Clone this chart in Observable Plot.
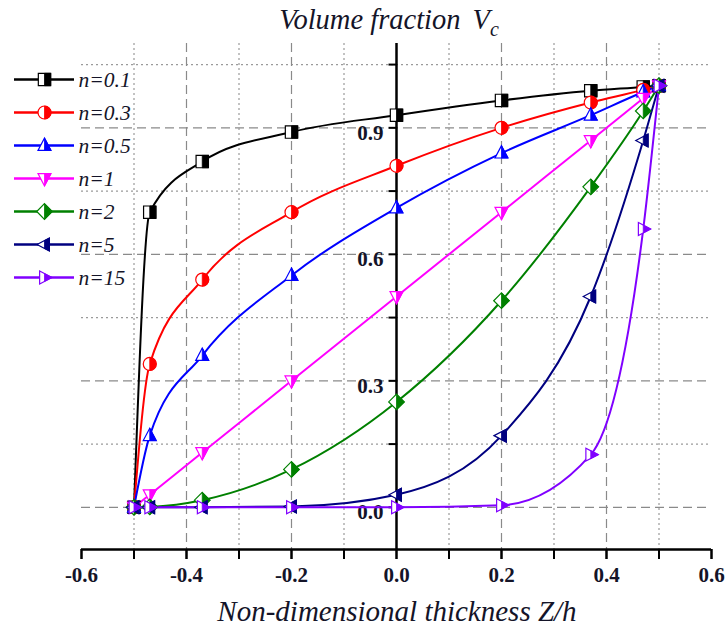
<!DOCTYPE html>
<html>
<head>
<meta charset="utf-8">
<script src="https://cdn.jsdelivr.net/npm/d3@7"></script>
<script src="https://cdn.jsdelivr.net/npm/@observablehq/plot@0.6"></script>
<style>
  html, body { margin: 0; padding: 0; background: #fff; }
  #chart { position: relative; width: 727px; height: 632px; overflow: hidden; }
  #chart svg { position: absolute; left: 0; top: 0; }
  g[aria-label="x-axis tick label"] text { font-weight: bold; }
</style>
</head>
<body>
<div id="chart"></div>
<script>
// ---------------- data ----------------
const zValues = [-0.5, -0.47, -0.37, -0.2, 0, 0.2, 0.37, 0.47, 0.5];
const seriesNames = ["n=0.1", "n=0.3", "n=0.5", "n=1", "n=2", "n=5", "n=15"];
const seriesColors = ["#000000", "#ff0000", "#0000ff", "#ff00ff", "#008000", "#000080", "#8000ff"];
const seriesShapes = ["square", "circle", "triangleUp", "triangleDown", "diamond", "triangleLeft", "triangleRight"];
const vN01 = [0, 0.70, 0.82, 0.89, 0.93, 0.965, 0.988, 0.997, 1.0];
const vN03 = [0, 0.34, 0.54, 0.70, 0.81, 0.90, 0.96, 0.99, 1.0];
const vN05 = [0, 0.17, 0.36, 0.55, 0.71, 0.84, 0.93, 0.985, 1.0];
const vN1  = [0, 0.03, 0.13, 0.30, 0.50, 0.70, 0.87, 0.97, 1.0];
const vN2  = [0, 0.001, 0.017, 0.09, 0.25, 0.49, 0.76, 0.94, 1.0];
const vN5  = [0, 0, 0, 0.002, 0.03, 0.17, 0.50, 0.87, 1.0];
const vN15 = [0, 0, 0, 0, 0, 0.005, 0.125, 0.66, 1.0];
const seriesValues = [vN01, vN03, vN05, vN1, vN2, vN5, vN15];

const xMinorTicks = [-0.6, -0.5, -0.4, -0.3, -0.2, -0.1, 0, 0.1, 0.2, 0.3, 0.4, 0.5, 0.6];
const xLabelTicks = [-0.6, -0.4, -0.2, 0, 0.2, 0.4, 0.6];
const xLabels = ["-0.6", "-0.4", "-0.2", "0.0", "0.2", "0.4", "0.6"];
const yMinorTicks = [0, 0.15, 0.3, 0.45, 0.6, 0.75, 0.9, 1.05];
const yLabelTicks = [0, 0.3, 0.6, 0.9];
const yLabels = ["0.0", "0.3", "0.6", "0.9"];
const gridDashedY = [0, 0.3, 0.6, 0.9];
const gridDottedY = [0.15, 0.45, 0.75, 1.05];
const gridDashedX = [-0.4, -0.2, 0.2, 0.4];
const gridDottedX = [-0.5, -0.3, -0.1, 0.1, 0.3, 0.5];

const titleText = "Volume fraction";
const titleVar = "V";
const titleSub = "c";
const xTitle = "Non-dimensional thickness Z/h";

// ---------------- table ----------------
const rows = [];
seriesNames.forEach((name, si) => {
  zValues.forEach((z, i) => rows.push({series: name, si, z, v: seriesValues[si][i]}));
});

// ---------------- half-filled symbols ----------------
function poly(ctx, pts) {
  ctx.moveTo(pts[0][0], pts[0][1]);
  for (let k = 1; k < pts.length; k++) ctx.lineTo(pts[k][0], pts[k][1]);
  ctx.closePath();
}
function shapeSymbol(kind, half) {
  return {
    draw(ctx, size) {
      const s = Math.sqrt(size / Math.PI);
      const a = s * 0.95, h = s * 1.15, b = s * 0.75, w = s * 1.0, d = s * 1.2;
      const cut = w * h / (h + b);
      switch (kind) {
        case "square":
          poly(ctx, half ? [[0, -a], [a, -a], [a, a], [0, a]] : [[-a, -a], [a, -a], [a, a], [-a, a]]);
          break;
        case "circle":
          if (half) { ctx.moveTo(0, -s); ctx.arc(0, 0, s, -Math.PI / 2, Math.PI / 2); ctx.closePath(); }
          else { ctx.moveTo(s, 0); ctx.arc(0, 0, s, 0, 2 * Math.PI); ctx.closePath(); }
          break;
        case "triangleUp":
          poly(ctx, half ? [[0, -h], [w, b], [0, b]] : [[0, -h], [w, b], [-w, b]]);
          break;
        case "triangleDown":
          poly(ctx, half ? [[0, h], [w, -b], [0, -b]] : [[0, h], [w, -b], [-w, -b]]);
          break;
        case "diamond":
          poly(ctx, half ? [[0, -d], [d, 0], [0, d]] : [[0, -d], [d, 0], [0, d], [-d, 0]]);
          break;
        case "triangleLeft":
          poly(ctx, half ? [[0, -cut], [b, -w], [b, w], [0, cut]] : [[-h, 0], [b, -w], [b, w]]);
          break;
        case "triangleRight": {
          const c2 = w * h / (h + b);
          poly(ctx, half ? [[0, -c2], [h, 0], [0, c2]] : [[h, 0], [-b, -w], [-b, w]]);
          break;
        }
      }
    }
  };
}
const tickLeft = { draw(ctx) { ctx.moveTo(-8, 0); ctx.lineTo(0, 0); } };

const serif = "'Liberation Serif', 'DejaVu Serif', serif";
const textColor = "#141428";

// ---------------- main plot ----------------
const marks = [
  Plot.ruleY(gridDashedY, {stroke: "#8a8a8a", strokeWidth: 1.2, strokeDasharray: "9,5"}),
  Plot.ruleY(gridDottedY, {stroke: "#9a9a9a", strokeWidth: 1.2, strokeDasharray: "2,3"}),
  Plot.ruleX(gridDashedX, {stroke: "#8a8a8a", strokeWidth: 1.2, strokeDasharray: "9,5"}),
  Plot.ruleX(gridDottedX, {stroke: "#9a9a9a", strokeWidth: 1.2, strokeDasharray: "2,3"}),
  Plot.text(yLabelTicks, {x: 0, y: d => d, text: (d, i) => yLabels[i], textAnchor: "end", dx: -13, dy: 5,
    fontSize: 21, fontWeight: "bold", fontFamily: serif, fill: textColor}),
  Plot.axisX(xMinorTicks, {tickSize: 10, tickFormat: () => "", stroke: "#000", strokeWidth: 2, label: null}),
  Plot.axisX(xLabelTicks, {tickSize: 10, tickPadding: 8, tickFormat: d => xLabels[xLabelTicks.indexOf(d)],
    fontSize: 21, fontFamily: serif, fill: textColor, stroke: "#000", strokeWidth: 2, label: null}),
  Plot.ruleY([-0.1], {stroke: "#000", strokeWidth: 2.5}),
  Plot.ruleX([0], {stroke: "#000", strokeWidth: 2.5}),
  Plot.dot(yMinorTicks, {x: 0, y: d => d, symbol: tickLeft, stroke: "#000", strokeWidth: 2, r: 4})
];
seriesNames.forEach((name, si) => {
  marks.push(Plot.line(rows.filter(r => r.si === si), {x: "z", y: "v", stroke: seriesColors[si], strokeWidth: 2, curve: "monotone-x"}));
});
seriesNames.forEach((name, si) => {
  const data = rows.filter(r => r.si === si);
  marks.push(Plot.dot(data, {x: "z", y: "v", symbol: shapeSymbol(seriesShapes[si], false), r: 6.5,
    fill: "#fff", stroke: seriesColors[si], strokeWidth: 1.2}));
  marks.push(Plot.dot(data, {x: "z", y: "v", symbol: shapeSymbol(seriesShapes[si], true), r: 6.5,
    fill: seriesColors[si], stroke: seriesColors[si], strokeWidth: 0.8}));
});

const chart = Plot.plot({
  width: 727, height: 632,
  marginLeft: 81, marginRight: 16, marginTop: 43, marginBottom: 83,
  x: {domain: [-0.6, 0.6], axis: null},
  y: {domain: [-0.1, 1.1], axis: null},
  style: {fontFamily: serif, background: "white"},
  marks
});

const svg = d3.select(chart);
const t = svg.append("text").attr("x", 389).attr("y", 29).attr("text-anchor", "middle")
  .attr("font-family", serif).attr("font-style", "italic").attr("font-size", 28.5).attr("fill", textColor);
t.append("tspan").text(titleText);
t.append("tspan").attr("dx", 12).text(titleVar);
t.append("tspan").attr("dy", 7).attr("font-size", 20).text(titleSub);

svg.append("text").attr("x", 397).attr("y", 621).attr("text-anchor", "middle")
  .attr("font-family", serif).attr("font-style", "italic").attr("font-size", 29).attr("fill", textColor)
  .text(xTitle);

document.getElementById("chart").appendChild(chart);

// ---------------- legend ----------------
const legendRows = seriesNames.map((name, si) => ({name, si}));
const legendMarks = [
  Plot.ruleY(legendRows, {y: "name", x1: 0, x2: 1, stroke: d => seriesColors[d.si], strokeWidth: 2.5})
];
legendRows.forEach(d => {
  legendMarks.push(Plot.dot([d], {x: 0.5, y: "name", symbol: shapeSymbol(seriesShapes[d.si], false), r: 6.5,
    fill: "#fff", stroke: seriesColors[d.si], strokeWidth: 1.2}));
  legendMarks.push(Plot.dot([d], {x: 0.5, y: "name", symbol: shapeSymbol(seriesShapes[d.si], true), r: 6.5,
    fill: seriesColors[d.si], stroke: seriesColors[d.si], strokeWidth: 0.8}));
});
legendMarks.push(Plot.text(legendRows, {x: 1, y: "name", text: "name", dx: 4, dy: 1, textAnchor: "start",
  fontSize: 21.5, fontStyle: "italic", fontFamily: serif, fill: textColor}));

const legend = Plot.plot({
  width: 160, height: 300, margin: 0,
  x: {domain: [0, 1], range: [14, 74], axis: null},
  y: {type: "point", domain: seriesNames, range: [79, 277], padding: 0, axis: null},
  stroke: {type: "identity"},
  style: {background: "transparent", overflow: "visible"},
  marks: legendMarks
});
document.getElementById("chart").appendChild(legend);
</script>
</body>
</html>
